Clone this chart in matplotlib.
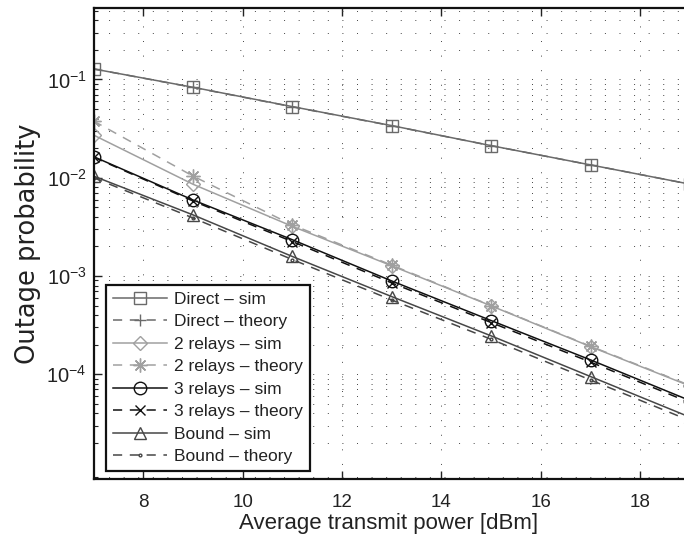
import numpy as np
import matplotlib
matplotlib.use("Agg")
import matplotlib.pyplot as plt
from matplotlib.ticker import LogLocator, NullFormatter, FixedLocator

# average transmit power [dBm]
power_dbm = [7, 9, 11, 13, 15, 17, 19]

# outage probabilities
direct_sim = [0.128, 0.0833, 0.0529, 0.0339, 0.0212, 0.0135, 0.0086]
direct_theory = [0.128, 0.0830, 0.0527, 0.0338, 0.0212, 0.0135, 0.0086]
relay2_sim = [0.0272, 0.00859, 0.0032, 0.00127, 4.97e-4, 1.91e-4, 7.6e-5]
relay2_theory = [0.0378, 0.0104, 0.00331, 0.00129, 5.0e-4, 1.93e-4, 7.7e-5]
relay3_sim = [0.0164, 0.00594, 0.00234, 8.9e-4, 3.52e-4, 1.40e-4, 5.4e-5]
relay3_theory = [0.0162, 0.0058, 0.00224, 8.5e-4, 3.36e-4, 1.33e-4, 5.15e-5]
bound_sim = [0.0104, 0.00419, 0.00158, 6.17e-4, 2.46e-4, 9.48e-5, 3.66e-5]
bound_theory = [0.0100, 0.0039, 0.00147, 5.7e-4, 2.27e-4, 8.75e-5, 3.37e-5]

labels = ["Direct \u2013 sim", "Direct \u2013 theory",
          "2 relays \u2013 sim", "2 relays \u2013 theory",
          "3 relays \u2013 sim", "3 relays \u2013 theory",
          "Bound \u2013 sim", "Bound \u2013 theory"]

plt.rcParams["font.family"] = ["Liberation Sans", "DejaVu Sans"]
plt.rcParams["mathtext.fontset"] = "custom"
plt.rcParams["mathtext.rm"] = "Liberation Sans"

fig = plt.figure(figsize=(6.84, 5.35), dpi=100)
ax = fig.add_axes([0.1367, 0.1047, 0.8633, 0.8803])

c_direct = "#6a6a6a"
c_r2 = "#a0a0a0"
c_r3 = "#111111"
c_bound = "#474747"
dash = (0, (6, 5))

series = [
    (direct_sim, c_direct, "-", "s", 8),
    (direct_theory, c_direct, dash, "+", 9),
    (relay2_sim, c_r2, "-", "D", 7),
    (relay2_theory, c_r2, dash, (8, 2, 0), 10),
    (relay3_sim, c_r3, "-", "o", 9),
    (relay3_theory, c_r3, dash, "x", 7),
    (bound_sim, c_bound, "-", "^", 9),
    (bound_theory, c_bound, dash, ".", 4),
]

for (vals, col, ls, mk, size), lab in zip(series, labels):
    ax.semilogy(power_dbm, vals, color=col, linestyle=ls, linewidth=1.1,
                marker=mk, markersize=size, markerfacecolor="none",
                markeredgecolor=col, markeredgewidth=1.0, label=lab)

ax.set_xlim(7, 18.88)
ax.set_ylim(8.6e-6, 0.533)
ax.set_xticks([8, 10, 12, 14, 16, 18])
ax.yaxis.set_major_locator(FixedLocator([1e-4, 1e-3, 1e-2, 1e-1]))
ax.yaxis.set_minor_locator(LogLocator(base=10, subs=np.arange(2, 10), numticks=20))
ax.yaxis.set_minor_formatter(NullFormatter())

grid_ls = (0, (1, 14))
ax.grid(True, which="major", axis="both", color="#444444", linestyle=grid_ls, linewidth=0.7)
ax.grid(True, which="minor", axis="y", color="#444444", linestyle=grid_ls, linewidth=0.7)

ax.tick_params(which="both", direction="in", top=True, right=False,
               colors="#222222")
ax.tick_params(axis="x", labelsize=13.5, pad=11)
ax.tick_params(axis="y", labelsize=14.5, pad=5)
ax.tick_params(which="major", length=6, width=1)
ax.tick_params(which="minor", length=3, width=0.8)
for side in ["left", "bottom", "top"]:
    ax.spines[side].set_linewidth(1.6)
    ax.spines[side].set_color("#111111")
ax.spines["right"].set_visible(False)

ax.set_xlabel("Average transmit power [dBm]", fontsize=16, color="#222222", labelpad=1)
ax.set_ylabel("Outage probability", fontsize=18.5, color="#222222", labelpad=4,
              family="DejaVu Sans")

leg = ax.legend(loc="lower left", bbox_to_anchor=(0.0212, 0.017), borderaxespad=0,
                fontsize=12.5, handlelength=3.1, labelspacing=0.42, borderpad=0.4,
                handletextpad=0.4, fancybox=False, framealpha=1,
                edgecolor="#111111")
leg.get_frame().set_linewidth(1.6)
for t in leg.get_texts():
    t.set_color("#222222")

fig.savefig("out.png", dpi=100)
